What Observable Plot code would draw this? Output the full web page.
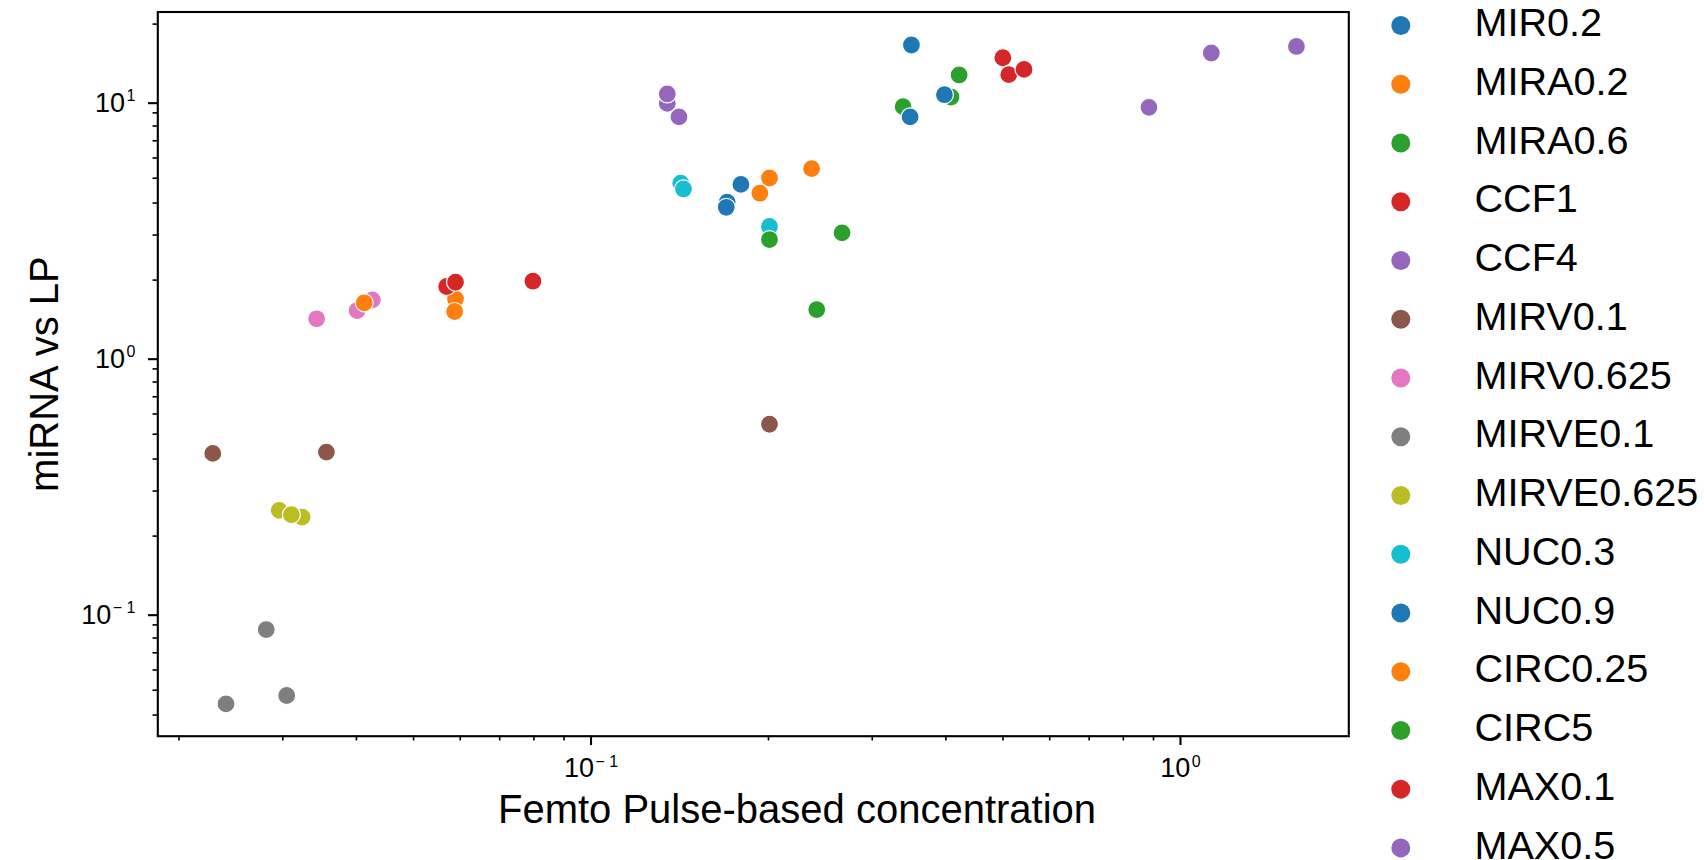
<!DOCTYPE html>
<html><head><meta charset="utf-8">
<script src="https://cdn.jsdelivr.net/npm/d3@7"></script>
<script src="https://cdn.jsdelivr.net/npm/@observablehq/plot@0.6"></script>
<style>
html,body{margin:0;padding:0;background:#fff;overflow:hidden;}
#wrap{position:relative;width:1704px;height:860px;overflow:hidden;background:#fff;}
#main{position:absolute;left:0;top:0;}
#legend{position:absolute;left:1360px;top:0;}
</style></head><body><div id="wrap"><div id="main"></div><div id="legend"></div></div>
<script>
const categories = ["MIR0.2","MIRA0.2","MIRA0.6","CCF1","CCF4","MIRV0.1","MIRV0.625","MIRVE0.1","MIRVE0.625","NUC0.3","NUC0.9","CIRC0.25","CIRC5","MAX0.1","MAX0.5"];
const palette = ["#1f77b4","#ff7f0e","#2ca02c","#d62728","#9467bd","#8c564b","#e377c2","#7f7f7f","#bcbd22","#17becf","#1f77b4","#ff7f0e","#2ca02c","#d62728","#9467bd"];

const pointGroup = [
  "MIR0.2","MIR0.2","MIR0.2",
  "MIRA0.2","MIRA0.2","MIRA0.2",
  "MIRA0.6","MIRA0.6","MIRA0.6",
  "CCF1","CCF1","CCF1",
  "CCF4","CCF4","CCF4",
  "MIRV0.1","MIRV0.1","MIRV0.1",
  "MIRV0.625","MIRV0.625","MIRV0.625",
  "MIRVE0.1","MIRVE0.1","MIRVE0.1",
  "MIRVE0.625","MIRVE0.625","MIRVE0.625",
  "NUC0.3","NUC0.3","NUC0.3",
  "NUC0.9","NUC0.9","NUC0.9",
  "CIRC0.25","CIRC0.25","CIRC0.25",
  "CIRC5","CIRC5","CIRC5",
  "MAX0.1","MAX0.1","MAX0.1",
  "MAX0.5","MAX0.5","MAX0.5"
];
const pointX = [
  0.1796,0.1702,0.1696,
  0.2367,0.2008,0.1934,
  0.4212,0.408,0.3384,
  0.4996,0.5113,0.5428,
  0.1347,0.1347,0.141,
  0.02282,0.03557,0.2008,
  0.03424,0.0401,0.04257,
  0.02812,0.02403,0.03046,
  0.02958,0.03235,0.03102,
  0.142,0.1435,0.2008,
  0.3496,0.3977,0.3478,
  0.04123,0.0589,0.0587,
  0.2666,0.2008,0.2415,
  0.0569,0.0589,0.0797,
  0.8842,1.128,1.573
];
const pointY = [
  4.73,4.03,3.85,
  5.45,5.01,4.37,
  12.66,10.38,9.52,
  14.78,12.69,13.31,
  9.80,10.67,8.68,
  0.4208,0.4258,0.547,
  1.412,1.521,1.675,
  0.0863,0.04421,0.04769,
  0.2522,0.2373,0.2425,
  4.78,4.54,3.24,
  16.57,10.60,8.68,
  1.631,1.69,1.508,
  3.06,2.88,1.535,
  1.888,1.962,1.98,
  9.46,15.42,16.36
];

const xMajorTicks = [0.1, 1];
const xMinorTicks = [0.02,0.03,0.04,0.05,0.06,0.07,0.08,0.09,0.2,0.3,0.4,0.5,0.6,0.7,0.8,0.9];
const yMajorTicks = [0.1, 1, 10];
const yMinorTicks = [0.04,0.05,0.06,0.07,0.08,0.09,0.2,0.3,0.4,0.5,0.6,0.7,0.8,0.9,2,3,4,5,6,7,8,9,20];
const xDomain = [0.01841, 1.930];
const yDomain = [0.03307, 22.30];
const xLabel = "Femto Pulse-based concentration";
const yLabel = "miRNA vs LP";

const data = pointGroup.map((g, i) => ({group: g, x: pointX[i], y: pointY[i]}));
const font = "'Liberation Sans', Arial, Helvetica, sans-serif";
const fmt = d => "10^" + Math.round(Math.log10(d));

const main = Plot.plot({
  width: 1360, height: 860,
  marginLeft: 157.3, marginRight: 11.7, marginTop: 11.5, marginBottom: 124.3,
  style: {fontFamily: font, fontSize: "27px", color: "black", background: "white", overflow: "visible"},
  x: {type: "log", domain: xDomain},
  y: {type: "log", domain: yDomain},
  color: {type: "ordinal", domain: categories, range: palette},
  marks: [
    Plot.axisX(xMinorTicks, {tickSize: 4.8, tickFormat: () => "", stroke: "black", strokeWidth: 1.6, label: null}),
    Plot.axisX(xMajorTicks, {tickSize: 9.3, tickPadding: 12.5, tickFormat: fmt, stroke: "black", strokeWidth: 2.1, label: null, fontSize: 27, fill: "black"}),
    Plot.axisY(yMinorTicks, {tickSize: 4.8, tickFormat: () => "", stroke: "black", strokeWidth: 1.6, label: null}),
    Plot.axisY(yMajorTicks, {tickSize: 9.3, tickPadding: 13, tickFormat: fmt, stroke: "black", strokeWidth: 2.1, label: null, dy: 2, fontSize: 27, fill: "black"}),
    Plot.dot(data, {x: "x", y: "y", fill: "group", r: 9, stroke: "white", strokeWidth: 1.2}),
    Plot.frame({stroke: "black", strokeWidth: 2.1}),
    Plot.text([xLabel], {frameAnchor: "bottom", textAnchor: "middle", dx: 43.7, dy: 86.9, lineAnchor: "bottom", fontSize: 40, fill: "black"}),
    Plot.text([yLabel], {frameAnchor: "left", textAnchor: "middle", dx: -100, rotate: -90, lineAnchor: "bottom", fontSize: 40, fill: "black"})
  ]
});

const ns = "http://www.w3.org/2000/svg";
main.querySelectorAll('g[aria-label$="tick label"] text').forEach(t => {
  const s = t.textContent;
  if (!s.startsWith("10^")) return;
  const e = s.slice(3).replace("-", "\u2212 ");
  while (t.firstChild) t.removeChild(t.firstChild);
  const a = document.createElementNS(ns, "tspan"); a.textContent = "10";
  const b = document.createElementNS(ns, "tspan"); b.textContent = e;
  b.setAttribute("font-size", "16"); b.setAttribute("dy", "-10.5"); b.setAttribute("dx", "1.5");
  t.append(a, b);
});
document.getElementById("main").append(main);

const legend = Plot.plot({
  width: 344, height: 860,
  marginTop: 25, marginBottom: 12.6, marginLeft: 0, marginRight: 0,
  style: {fontFamily: font, background: "transparent", overflow: "hidden"},
  y: {type: "point", domain: categories, padding: 0, round: false, axis: null},
  x: {axis: null},
  color: {type: "ordinal", domain: categories, range: palette},
  marks: [
    Plot.dot(categories, {y: d => d, fill: d => d, r: 9.5, frameAnchor: "left", dx: 40.3}),
    Plot.text(categories, {y: d => d, text: d => d, frameAnchor: "left", dx: 114, textAnchor: "start", fontSize: 39.6, dy: -2, fill: "black"})
  ]
});
document.getElementById("legend").append(legend);
</script></body></html>
